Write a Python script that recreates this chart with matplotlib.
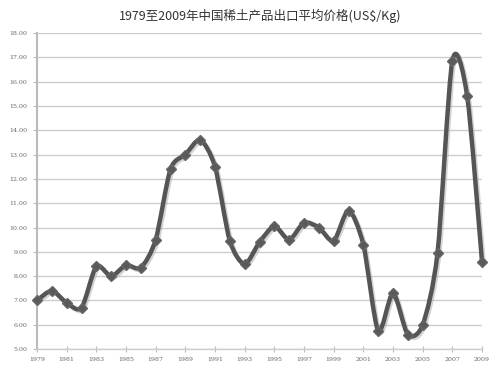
import numpy as np
import matplotlib.pyplot as plt
import matplotlib.patheffects as pe
from matplotlib.path import Path
from matplotlib.patches import PathPatch

plt.rcParams['font.family'] = ['Noto Sans CJK SC', 'DejaVu Sans']

years = list(range(1979, 2010))
prices = [7.0, 7.4, 6.9, 6.7, 8.4, 8.0, 8.45, 8.35, 9.5, 12.4,
          13.0, 13.6, 12.5, 9.45, 8.5, 9.4, 10.05, 9.5, 10.2, 10.0,
          9.45, 10.7, 9.3, 5.75, 7.3, 5.6, 6.0, 8.95, 16.85, 15.4, 8.6]
xtick_years = list(range(1979, 2010, 2))
title = '1979至2009年中国稀土产品出口平均价格(US$/Kg)'


def smooth_path(x, y, t=0.4):
    # Catmull-Rom style bezier, like Excel's smoothed line
    x = np.asarray(x, float)
    y = np.asarray(y, float)
    verts = [(x[0], y[0])]
    codes = [Path.MOVETO]
    n = len(x)
    for i in range(n - 1):
        x0, y0 = (x[i - 1], y[i - 1]) if i > 0 else (x[i], y[i])
        x3, y3 = (x[i + 2], y[i + 2]) if i + 2 < n else (x[i + 1], y[i + 1])
        c1 = (x[i] + (x[i + 1] - x0) * t / 3, y[i] + (y[i + 1] - y0) * t / 3)
        c2 = (x[i + 1] - (x3 - x[i]) * t / 3, y[i + 1] - (y3 - y[i]) * t / 3)
        verts += [c1, c2, (x[i + 1], y[i + 1])]
        codes += [Path.CURVE4] * 3
    return Path(verts, codes)


fig = plt.figure(figsize=(5, 3.71), dpi=100)
ax = fig.add_axes([0.074, 0.059, 0.89, 0.852])

ax.set_xlim(1979, 2009)
ax.set_ylim(5, 18)
ax.set_yticks(np.arange(5, 19, 1))
ax.set_yticklabels(['%.2f' % v for v in np.arange(5, 19, 1)],
                   fontsize=4.5, family='DejaVu Serif', color='#666666')
ax.set_xticks(xtick_years)
ax.set_xticklabels([str(v) for v in xtick_years],
                   fontsize=4.5, family='DejaVu Serif', color='#666666')
ax.tick_params(axis='both', length=3, width=0.8, color='#bbbbbb', pad=4)
ax.tick_params(axis='x', direction='inout', length=4)

ax.grid(axis='y', color='#cccccc', linewidth=1.0)
ax.set_axisbelow(True)
for s in ['top', 'right']:
    ax.spines[s].set_visible(False)
ax.spines['left'].set_color('#bbbbbb')
ax.spines['left'].set_linewidth(1.5)
ax.spines['bottom'].set_color('#cccccc')
ax.spines['bottom'].set_linewidth(1.0)

patch = PathPatch(smooth_path(years, prices), facecolor='none',
                  edgecolor='#555555', linewidth=3.2, zorder=3,
                  path_effects=[pe.SimpleLineShadow(offset=(1.2, -1.2), shadow_color='#aaaaaa', alpha=0.5),
                                pe.Normal()])
patch.set_clip_on(False)
ax.add_patch(patch)
ax.plot(years, prices, linestyle='none', marker='D', markersize=5.5,
        color='#5a5a5a', markeredgecolor='#666666', zorder=4, clip_on=False)

fig.text(0.52, 0.957, title, ha='center', va='center', fontsize=9, color='#333333')

fig.savefig('out.png', dpi=100, facecolor='white')
